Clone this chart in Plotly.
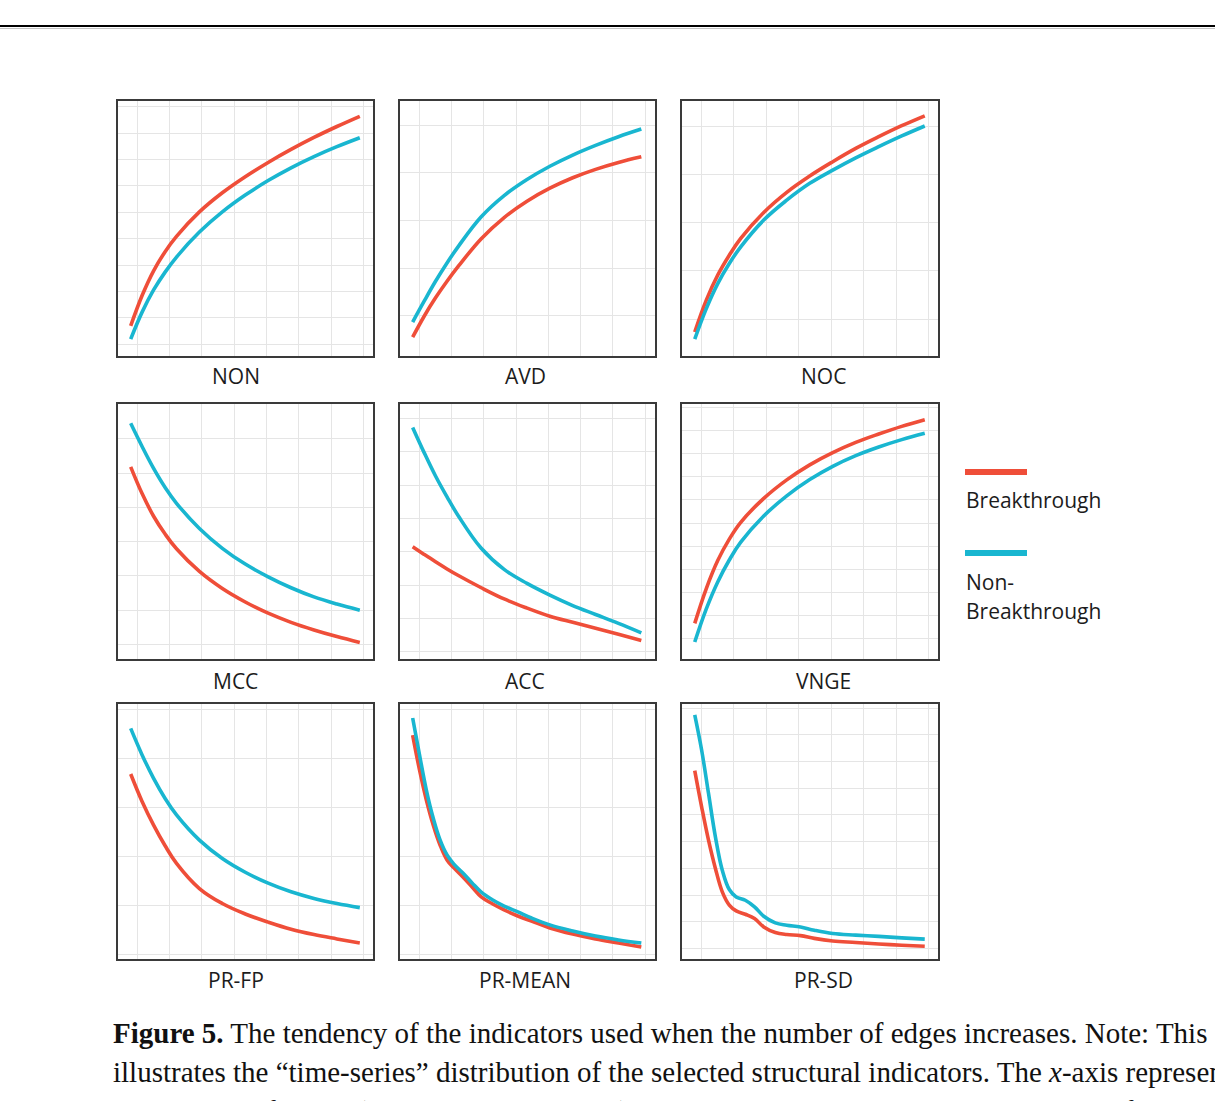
import plotly.graph_objects as go

# ---------------- data (relative magnitude, 0-100 of panel height) ----------------
edges = [200, 289, 377, 466, 554, 731, 908, 1085, 1262, 1439, 1616, 1793, 1970]
edges_dense = [200, 253, 306, 359, 412, 466, 519, 589, 660, 731, 820, 908, 1014,
               1120, 1262, 1439, 1616, 1793, 1970]

indicators = ["NON", "AVD", "NOC", "MCC", "ACC", "VNGE", "PR-FP", "PR-MEAN", "PR-SD"]
series_names = ["Breakthrough", "Non-Breakthrough"]

non_b = [11.8, 23.8, 33.4, 40.9, 46.9, 56.5, 64.0, 70.3, 75.9, 81.0, 85.7, 90.0, 94.0]
non_n = [6.6, 17.3, 25.9, 32.9, 38.8, 48.6, 56.5, 63.1, 68.8, 73.8, 78.2, 82.1, 85.6]
avd_b = [7.4, 15.6, 22.8, 29.3, 35.2, 46.0, 54.3, 60.7, 65.8, 69.9, 73.2, 75.9, 78.1]
avd_n = [13.3, 21.5, 29.3, 36.5, 43.0, 54.6, 62.9, 69.2, 74.4, 78.8, 82.6, 86.0, 89.0]
noc_b = [9.4, 21.9, 31.7, 39.5, 46.1, 56.3, 64.2, 70.6, 76.2, 81.4, 86.0, 90.3, 94.2]
noc_n = [6.6, 18.6, 28.4, 36.3, 42.8, 53.3, 61.1, 67.7, 72.9, 77.7, 82.1, 86.3, 90.2]
mcc_b = [75.3, 64.7, 55.9, 48.9, 43.1, 34.2, 27.5, 22.2, 17.8, 14.2, 11.2, 8.6, 6.3]
mcc_n = [92.4, 83.2, 74.7, 67.2, 61.0, 51.1, 43.3, 37.1, 32.1, 27.8, 24.2, 21.4, 19.0]
acc_b = [43.9, 40.9, 38.0, 35.2, 32.6, 27.8, 23.4, 19.8, 16.6, 14.2, 11.9, 9.5, 7.1]
acc_n = [90.8, 80.9, 71.7, 63.5, 56.0, 43.3, 35.0, 29.5, 24.9, 20.8, 17.3, 13.8, 10.1]
vnge_b = [13.8, 27.5, 38.5, 46.9, 53.5, 62.9, 70.2, 76.1, 80.9, 84.9, 88.2, 91.2, 93.8]
vnge_n = [6.5, 19.5, 30.1, 38.7, 45.7, 56.0, 63.9, 70.3, 75.5, 79.7, 83.1, 86.0, 88.5]
prfp_b = [72.5, 61.6, 52.4, 44.3, 37.4, 27.5, 21.6, 17.5, 14.3, 11.5, 9.4, 7.7, 6.1]
prfp_n = [90.4, 79.9, 70.8, 62.9, 56.4, 46.5, 39.3, 33.9, 29.6, 26.2, 23.6, 21.6, 20.0]
prmean_b = [87.8, 74.1, 62.3, 52.5, 44.6, 38.7, 35.6, 32.0, 28.1, 24.2, 21.4, 19.1,
            16.7, 14.7, 12.0, 9.6, 7.7, 6.1, 4.5]
prmean_n = [94.5, 80.0, 66.2, 55.2, 46.6, 40.7, 37.1, 33.6, 29.7, 26.1, 23.0, 20.6,
            18.3, 15.9, 13.2, 10.8, 8.8, 7.3, 6.1]
prsd_b = [73.8, 59.6, 46.5, 35.4, 26.2, 21.0, 18.7, 17.4, 15.7, 12.4, 10.2, 9.4,
          9.0, 7.9, 6.9, 6.3, 5.7, 5.2, 4.8]
prsd_n = [95.7, 81.9, 64.9, 47.8, 34.7, 27.1, 24.2, 22.9, 20.3, 16.6, 14.0, 13.1,
          12.4, 11.1, 9.8, 9.2, 8.7, 8.1, 7.6]

panel_x = [edges] * 7 + [edges_dense, edges_dense]
panel_b = [non_b, avd_b, noc_b, mcc_b, acc_b, vnge_b, prfp_b, prmean_b, prsd_b]
panel_n = [non_n, avd_n, noc_n, mcc_n, acc_n, vnge_n, prfp_n, prmean_n, prsd_n]

# ---------------- styling ----------------
W, H = 1215, 1101
RED = "#EF4E39"
CYAN = "#19B6D0"
GRID = "#e5e5e5"
FRAME = "#3a3a3a"
LABEL_FONT = "Open Sans"
SERIF = "Liberation Serif"

col_px = [(118, 373), (400, 654.5), (682, 938)]
row_px = [(101, 356), (404, 658.5), (704, 958.5)]
label_cx = [236, 525, 823]
label_y = [376, 681, 980]
# horizontal grid (tick0, dtick) per panel
ygrid = [(4.6, 10.35), (15.7, 18.7), (14.5, 18.85),
         (5.6, 13.45), (2.6, 13.1), (7.7, 9.1),
         (1.7, 19.2), (1.7, 19.2), (3.9, 10.5)]
x_grid_vals = [250, 500, 750, 1000, 1250, 1500, 1750, 2000]
x_range = [102, 2072]

fig = go.Figure()
layout_axes = {}
for i, name in enumerate(indicators):
    r, c = divmod(i, 3)
    k = "" if i == 0 else str(i + 1)
    x0, x1 = col_px[c]
    y0, y1 = row_px[r]
    layout_axes["xaxis" + k] = dict(
        domain=[x0 / W, x1 / W], anchor="y" + k, range=x_range,
        tickvals=x_grid_vals, showticklabels=False, ticks="",
        showgrid=True, gridcolor=GRID, gridwidth=1.3, zeroline=False,
        showline=True, mirror=True, linecolor=FRAME, linewidth=1.8, fixedrange=True)
    t0, dt = ygrid[i]
    layout_axes["yaxis" + k] = dict(
        domain=[1 - y1 / H, 1 - y0 / H], anchor="x" + k, range=[0, 100],
        tick0=t0, dtick=dt, tickmode="linear", showticklabels=False, ticks="",
        showgrid=True, gridcolor=GRID, gridwidth=1.3, zeroline=False,
        showline=True, mirror=True, linecolor=FRAME, linewidth=1.8, fixedrange=True)
    for vals, col, sname in ((panel_b[i], RED, series_names[0]),
                             (panel_n[i], CYAN, series_names[1])):
        fig.add_trace(go.Scatter(
            x=panel_x[i], y=vals, mode="lines", name=sname,
            line=dict(color=col, width=3.6, shape="spline", smoothing=1.1),
            xaxis="x" + k, yaxis="y" + k, showlegend=False, hoverinfo="skip"))

annotations = []
for i, name in enumerate(indicators):
    r, c = divmod(i, 3)
    annotations.append(dict(
        text=name, x=label_cx[c] / W, y=1 - label_y[r] / H, xref="paper", yref="paper",
        xanchor="center", yanchor="middle", showarrow=False,
        font=dict(family=LABEL_FONT, size=21, color="#1c1c1c")))

# legend (drawn as decoration)
shapes = []
legend_items = [(472, RED, [(500, "Breakthrough")]),
                (553, CYAN, [(582, "Non-"), (611, "Breakthrough")])]
for ly, col, texts in legend_items:
    shapes.append(dict(type="line", xref="paper", yref="paper",
                       x0=965 / W, x1=1027 / W, y0=1 - ly / H, y1=1 - ly / H,
                       line=dict(color=col, width=6)))
    for ty, t in texts:
        annotations.append(dict(
            text=t, x=964 / W, y=1 - ty / H, xref="paper", yref="paper",
            xanchor="left", yanchor="middle", showarrow=False,
            font=dict(family=LABEL_FONT, size=21, color="#1c1c1c")))

# page header rule
shapes.append(dict(type="line", xref="paper", yref="paper", x0=0, x1=1,
                   y0=1 - 26 / H, y1=1 - 26 / H, line=dict(color="#000000", width=1.8)))
shapes.append(dict(type="line", xref="paper", yref="paper", x0=0, x1=1,
                   y0=1 - 28.5 / H, y1=1 - 28.5 / H, line=dict(color="#c4c4c4", width=1)))

caption_lines = [
    (1033, "<b>Figure 5.</b> The tendency of the indicators used when the number of edges increases. Note: This"),
    (1072, "illustrates the \u201ctime-series\u201d distribution of the selected structural indicators. The <i>x</i>-axis represents"),
    (1111, "the number of edges (increasing to the right), and the <i>y</i>-axis represents the magnitude of the indicators."),
]
for cy, t in caption_lines:
    annotations.append(dict(
        text=t, x=111 / W, y=1 - cy / H, xref="paper", yref="paper",
        xanchor="left", yanchor="middle", showarrow=False,
        font=dict(family=SERIF, size=29, color="#111111")))

fig.update_layout(
    width=W, height=H, margin=dict(l=0, r=0, t=0, b=0),
    paper_bgcolor="white", plot_bgcolor="white",
    showlegend=False, annotations=annotations, shapes=shapes, **layout_axes)

fig.write_html("out.html")
